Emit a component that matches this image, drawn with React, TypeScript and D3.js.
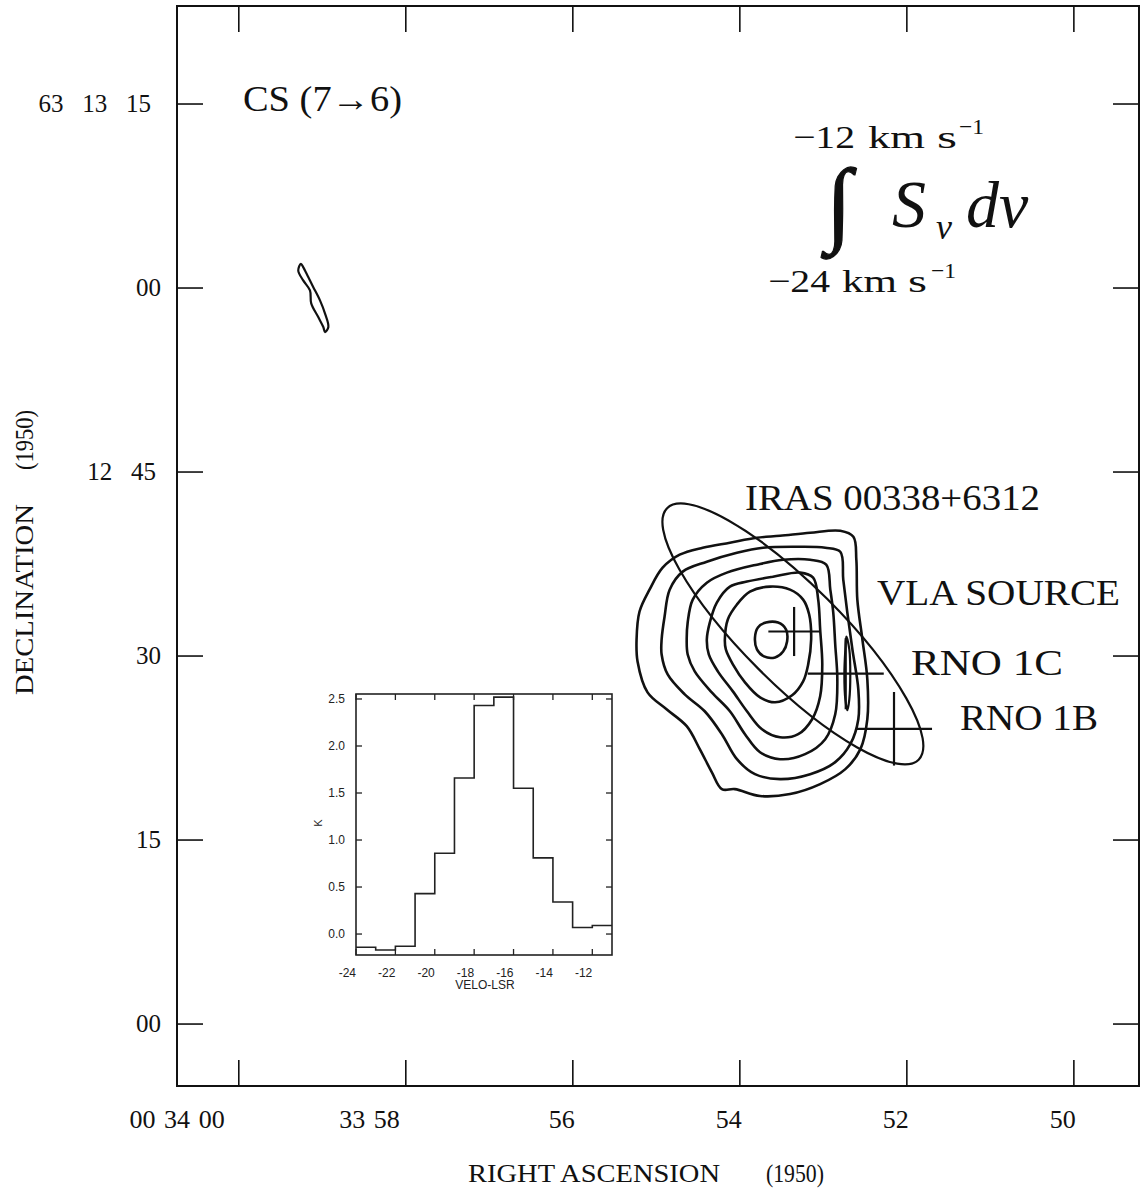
import React from "react";
import * as d3 from "d3";

// Map axes: RA in seconds past 00h33m (60 = 00h34m00s), Dec in arcsec past 63°12'00"
const raTicks = [60, 58, 56, 54, 52, 50];
const raTickLabels = ["00 34 00", "33 58", "56", "54", "52", "50"];
const decTicks = [75, 60, 45, 30, 15, 0];
const decTickLabels = ["63 13 15", "00", "12 45", "30", "15", "00"];

// Reference position for offsets (VLA source)
const refRA = 53.35;
const refDec = 32.0;
const decDeg = 63.2;

// CS (7-6) integrated intensity contours, [east, north] offsets in arcsec
const contourA: [number, number][] = [
  [12.76, -0.65], [12.52, 1.63], [11.71, 3.41], [10.65, 5.2], [9.27, 6.26], [7.4, 6.83],
  [5.2, 7.24], [3.01, 7.64], [1.14, 7.8], [-1.3, 8.05], [-3.74, 8.21], [-4.8, 7.72],
  [-5.04, 5.85], [-5.12, 2.6], [-5.53, -0.65], [-5.93, -3.9], [-5.93, -7.15], [-5.37, -9.59],
  [-4.15, -11.22], [-2.11, -12.44], [0.33, -13.25], [2.76, -13.41], [4.8, -12.85],
  [5.85, -12.85], [6.67, -11.46], [7.64, -9.59], [8.7, -7.72], [10.33, -6.34], [11.87, -4.96],
  [12.68, -2.44],
];
const contourB: [number, number][] = [
  [10.73, -0.65], [10.49, 1.22], [10.08, 3.41], [9.02, 4.88], [7.07, 5.69], [4.63, 6.42],
  [2.52, 6.83], [-0.49, 6.91], [-2.52, 6.83], [-3.74, 6.5], [-3.98, 4.23], [-4.31, 1.54],
  [-4.72, -1.46], [-5.2, -4.72], [-5.2, -7.15], [-4.55, -9.19], [-3.33, -10.65], [-1.3, -11.63],
  [1.14, -12.03], [3.17, -11.63], [4.63, -10.41], [5.85, -8.37], [7.24, -6.5], [8.86, -5.12],
  [10.24, -3.5], [10.73, -1.87],
];
const contourC: [number, number][] = [
  [8.7, -0.65], [8.62, 0.73], [8.21, 2.6], [7.07, 3.98], [5.45, 4.8], [3.01, 5.45], [0.89, 5.85],
  [-1.3, 5.85], [-2.6, 5.45], [-2.93, 3.41], [-3.17, 1.54], [-3.33, -1.06], [-3.5, -3.9],
  [-3.33, -6.75], [-2.52, -8.78], [-0.89, -10.0], [1.14, -10.41], [2.76, -9.84], [3.98, -8.37],
  [5.2, -6.5], [6.67, -4.96], [8.05, -3.25], [8.62, -1.87],
];
const contourD: [number, number][] = [
  [7.07, -0.65], [6.83, 0.73], [6.26, 2.36], [5.2, 3.66], [3.82, 4.07], [1.71, 4.47], [-0.49, 4.8],
  [-1.54, 4.39], [-1.95, 2.6], [-2.11, 0.16], [-2.28, -2.68], [-2.11, -5.28], [-1.46, -7.15],
  [-0.33, -8.37], [1.14, -8.62], [2.6, -7.97], [3.82, -6.5], [4.96, -4.88], [6.18, -3.25],
  [6.91, -1.87],
];
const contourE: [number, number][] = [
  [5.61, -0.65], [5.37, 0.98], [4.63, 2.2], [3.58, 3.25], [1.95, 3.66], [0.33, 3.41], [-0.73, 2.6],
  [-1.22, 1.38], [-1.38, -0.65], [-1.14, -2.68], [-0.73, -4.07], [0.16, -5.2], [1.54, -5.77],
  [2.76, -5.37], [3.98, -4.15], [4.96, -2.68], [5.53, -1.46],
];
const contourF: [number, number][] = [
  [3.17, -0.49], [2.93, 0.33], [2.28, 0.73], [1.3, 0.73], [0.65, 0.16], [0.57, -0.81],
  [0.89, -1.63], [1.54, -2.11], [2.44, -2.03], [3.01, -1.46],
];
const contourRNO1C: [number, number][] = [
  [-4.23, -0.41], [-4.47, -1.46], [-4.55, -3.5], [-4.47, -5.53], [-4.31, -6.42],
  [-4.15, -5.53], [-4.07, -3.5], [-4.15, -1.46],
];
const contourNW: [number, number][] = [
  [39.94, 29.98], [40.16, 29.43], [39.76, 28.62], [39.21, 27.8], [39.11, 26.75], [38.54, 25.63],
  [38.13, 24.82], [37.99, 24.41], [37.72, 24.82], [37.99, 25.91], [38.4, 26.99], [38.94, 28.07],
  [39.35, 28.89], [39.76, 29.7],
];
const contours = [contourA, contourB, contourC, contourD, contourE, contourF, contourRNO1C, contourNW];

// Source positions: [east, north] offsets, arm half-lengths [ew, ns] in arcsec
const sourceNames = ["VLA SOURCE", "RNO 1C", "RNO 1B"];
const sourceOffsets: [number, number][] = [[0, 0], [-4.18, -3.44], [-8.09, -7.93]];
const sourceArms: [number, number][] = [[2.1, 2.0], [3.1, 2.9], [3.1, 3.0]];

// IRAS error ellipse: centre offset, semi-axes (arcsec), position angle (deg E of N)
const irasCentre: [number, number] = [0.1, -0.2];
const irasAxes: [number, number] = [14.5, 4.0];
const irasPA = 45;

// Inset spectrum: channel start velocities (km/s) and brightness (K)
const specVel = [-24, -23, -22, -21, -20, -19, -18, -17, -16, -15, -14, -13, -12, -11];
const specK = [-0.14, -0.17, -0.13, 0.43, 0.86, 1.66, 2.43, 2.52, 1.55, 0.81, 0.34, 0.07, 0.09, 0.09];
const specVelTicks = [-24, -22, -20, -18, -16, -14, -12];
const specKTicks = [0, 0.5, 1.0, 1.5, 2.0, 2.5];

const serif = "'Liberation Serif', 'DejaVu Serif', serif";
const sans = "'Liberation Sans', Arial, sans-serif";

export default function App() {
  const x = d3.scaleLinear().domain([60.74, 49.22]).range([177, 1139]);
  const y = d3.scaleLinear().domain([-5.05, 82.99]).range([1086, 6]);
  const secPerArcsec = 1 / (15 * Math.cos((decDeg * Math.PI) / 180));
  const sky = (p: [number, number]): [number, number] => [
    x(refRA + p[0] * secPerArcsec),
    y(refDec + p[1]),
  ];
  const pxPerArcsec = y(0) - y(1);

  const closed = d3.line<[number, number]>().curve(d3.curveCatmullRomClosed.alpha(0.5));

  const left = 177, right = 1139, top = 6, bottom = 1086;
  const tickLen = 26;

  // inset scales
  const vx = d3.scaleLinear().domain([-24, -11]).range([356, 612]);
  const ky = d3.scaleLinear().domain([-0.223, 2.553]).range([955, 694]);
  const specPts: [number, number][] = specVel.map((v, i) => [vx(v), ky(specK[i])]);
  const step = d3.line<[number, number]>().curve(d3.curveStepAfter)(specPts) || "";

  const [ecx, ecy] = sky(irasCentre);

  return (
    <svg
      width={1144}
      height={1192}
      style={{ position: "absolute", left: 0, top: 0, background: "#fff" }}
      xmlns="http://www.w3.org/2000/svg"
    >
      <rect x={0} y={0} width={1144} height={1192} fill="#fff" />
      {/* frame */}
      <rect x={left} y={top} width={right - left} height={bottom - top} fill="none" stroke="#111" strokeWidth={2} />

      {/* RA ticks */}
      {raTicks.map((t) => (
        <g key={"ra" + t} stroke="#111" strokeWidth={1.6}>
          <line x1={x(t)} x2={x(t)} y1={top} y2={top + tickLen} />
          <line x1={x(t)} x2={x(t)} y1={bottom} y2={bottom - tickLen} />
        </g>
      ))}
      {raTickLabels.map((lab, i) => (
        <text
          key={"ral" + i}
          x={x(raTicks[i]) + 2 - (lab.split(" ").length - 1) * 8}
          y={1128}
          fontFamily={serif}
          fontSize={26}
          textAnchor="end"
          fill="#111"
        >
          {lab.split(" ").join("\u2004")}
        </text>
      ))}

      {/* Dec ticks */}
      {decTicks.map((t) => (
        <g key={"de" + t} stroke="#111" strokeWidth={1.6}>
          <line x1={left} x2={left + tickLen} y1={y(t)} y2={y(t)} />
          <line x1={right} x2={right - tickLen} y1={y(t)} y2={y(t)} />
        </g>
      ))}
      {decTickLabels.map((lab, i) => (
        <text
          key={"del" + i}
          x={161 - (lab.split(" ").length - 1) * 5}
          y={y(decTicks[i]) + 8}
          fontFamily={serif}
          fontSize={25}
          textAnchor="end"
          fill="#111"
        >
          {lab.split(" ").join("\u2002 ")}
        </text>
      ))}

      {/* axis titles */}
      <text x={468} y={1182} fontFamily={serif} fontSize={25} textLength={252} lengthAdjust="spacingAndGlyphs" fill="#111">
        RIGHT ASCENSION
      </text>
      <text x={766} y={1182} fontFamily={serif} fontSize={25} textLength={58} lengthAdjust="spacingAndGlyphs" fill="#111">
        (1950)
      </text>
      <g transform="translate(33,695) rotate(-90)">
        <text x={0} y={0} fontFamily={serif} fontSize={25} textLength={191} lengthAdjust="spacingAndGlyphs" fill="#111">
          DECLINATION
        </text>
        <text x={225} y={0} fontFamily={serif} fontSize={25} textLength={60} lengthAdjust="spacingAndGlyphs" fill="#111">
          (1950)
        </text>
      </g>

      {/* line label */}
      <text x={243} y={111} fontFamily={serif} fontSize={35} textLength={159} lengthAdjust="spacingAndGlyphs" fill="#111">
        CS (7→6)
      </text>

      {/* velocity-integration label */}
      <g fontFamily={serif} fill="#111">
        <text x={793} y={148} fontSize={32} textLength={62} lengthAdjust="spacingAndGlyphs">−12</text>
        <text x={868} y={148} fontSize={32} textLength={57} lengthAdjust="spacingAndGlyphs">km</text>
        <text x={937} y={148} fontSize={32} textLength={20} lengthAdjust="spacingAndGlyphs">s</text>
        <text x={959} y={134} fontSize={22} textLength={25} lengthAdjust="spacingAndGlyphs">−1</text>
        <text x={826} y={234} fontSize={94} fontStyle="italic" stroke="#111" strokeWidth={1.2}>∫</text>
        <text x={892} y={227} fontSize={68} fontStyle="italic">S</text>
        <text x={936} y={239} fontSize={36} fontStyle="italic">ν</text>
        <text x={966} y={227} fontSize={66} fontStyle="italic">dv</text>
        <text x={768} y={292} fontSize={32} textLength={62} lengthAdjust="spacingAndGlyphs">−24</text>
        <text x={842} y={292} fontSize={32} textLength={55} lengthAdjust="spacingAndGlyphs">km</text>
        <text x={908} y={292} fontSize={32} textLength={19} lengthAdjust="spacingAndGlyphs">s</text>
        <text x={931} y={278} fontSize={22} textLength={25} lengthAdjust="spacingAndGlyphs">−1</text>
      </g>

      {/* contours */}
      <g fill="none" stroke="#111" strokeLinejoin="round">
        {contours.map((c, i) => (
          <path key={"c" + i} d={closed(c.map(sky)) || ""} strokeWidth={i >= 6 ? 2.2 : 2.6} />
        ))}
      </g>

      {/* IRAS error ellipse */}
      <ellipse
        cx={ecx}
        cy={ecy}
        rx={irasAxes[0] * pxPerArcsec}
        ry={irasAxes[1] * pxPerArcsec}
        transform={`rotate(${90 - irasPA} ${ecx} ${ecy})`}
        fill="none"
        stroke="#111"
        strokeWidth={2.2}
      />

      {/* source crosses */}
      <g stroke="#111" strokeWidth={2.2}>
        {sourceOffsets.map((p, i) => {
          const [cx, cy] = sky(p);
          const ax = sourceArms[i][0] * pxPerArcsec;
          const ay = sourceArms[i][1] * pxPerArcsec;
          return (
            <g key={sourceNames[i]}>
              <line x1={cx - ax} x2={cx + ax} y1={cy} y2={cy} />
              <line x1={cx} x2={cx} y1={cy - ay} y2={cy + ay} />
            </g>
          );
        })}
      </g>

      {/* labels */}
      <g fontFamily={serif} fontSize={36} fill="#111">
        <text x={745} y={510} textLength={295} lengthAdjust="spacingAndGlyphs">IRAS 00338+6312</text>
        <text x={877} y={605} textLength={243} lengthAdjust="spacingAndGlyphs">{sourceNames[0]}</text>
        <text x={911} y={675} textLength={152} lengthAdjust="spacingAndGlyphs">{sourceNames[1]}</text>
        <text x={960} y={730} textLength={138} lengthAdjust="spacingAndGlyphs">{sourceNames[2]}</text>
      </g>

      {/* inset spectrum */}
      <g>
        <rect x={vx(-24)} y={ky(2.553)} width={vx(-11) - vx(-24)} height={ky(-0.223) - ky(2.553)} fill="#fff" stroke="#222" strokeWidth={1.6} />
        {specVelTicks.map((v) => (
          <g key={"vt" + v} stroke="#222" strokeWidth={1.3}>
            <line x1={vx(v)} x2={vx(v)} y1={ky(2.553)} y2={ky(2.553) + 6} />
            <line x1={vx(v)} x2={vx(v)} y1={ky(-0.223)} y2={ky(-0.223) - 6} />
          </g>
        ))}
        {specKTicks.map((k) => (
          <g key={"kt" + k} stroke="#222" strokeWidth={1.3}>
            <line x1={vx(-24)} x2={vx(-24) + 6} y1={ky(k)} y2={ky(k)} />
            <line x1={vx(-11)} x2={vx(-11) - 6} y1={ky(k)} y2={ky(k)} />
          </g>
        ))}
        <path d={step} fill="none" stroke="#222" strokeWidth={1.6} />
        {specVelTicks.map((v) => (
          <text key={"vl" + v} x={vx(v)} y={977} fontFamily={sans} fontSize={12} textAnchor="end" fill="#222">
            {String(v)}
          </text>
        ))}
        {specKTicks.map((k) => (
          <text key={"kl" + k} x={345} y={ky(k) + 4} fontFamily={sans} fontSize={12} textAnchor="end" fill="#222">
            {k.toFixed(1)}
          </text>
        ))}
        <text x={485} y={989} fontFamily={sans} fontSize={12} textAnchor="middle" fill="#222">VELO-LSR</text>
        <text transform="translate(322,823) rotate(-90)" fontFamily={sans} fontSize={11} textAnchor="middle" fill="#222">K</text>
      </g>
    </svg>
  );
}
